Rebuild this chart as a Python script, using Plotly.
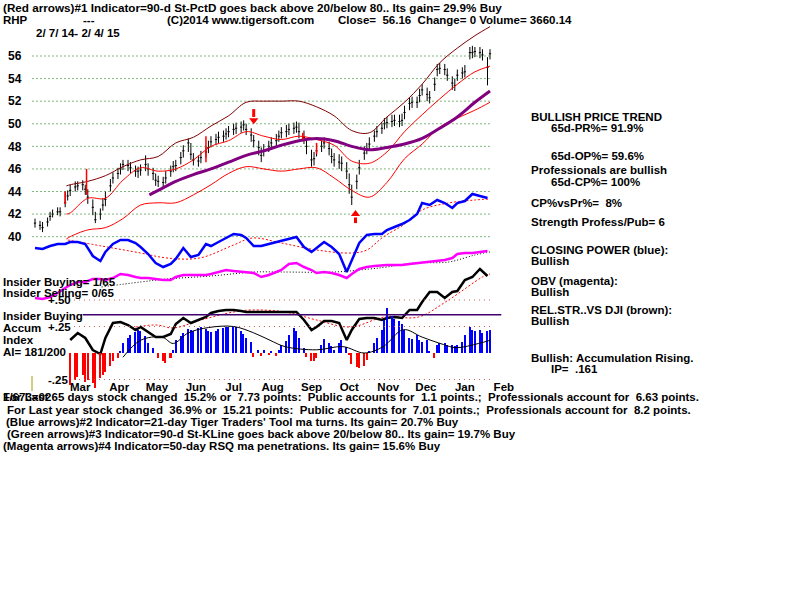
import pandas as pd
import plotly.graph_objects as go

# ---------------- data ----------------
START = "2014-02-07"
END = "2015-02-04"
PRICE_TICKS = [40, 42, 44, 46, 48, 50, 52, 54, 56]
MONTH_TICKS = ["2014-03-15", "2014-04-15", "2014-05-15", "2014-06-15", "2014-07-15",
               "2014-08-15", "2014-09-15", "2014-10-15", "2014-11-15", "2014-12-15",
               "2015-01-15", "2015-02-15"]
MONTH_LABELS = ["Mar", "Apr", "May", "Jun", "Jul", "Aug", "Sep", "Oct", "Nov", "Dec", "Jan", "Feb"]

# price bars, one every 2 trading days
CLOSE = [41.2, 41.0, 40.8, 41.3, 41.8, 42.0, 42.2, 42.2, 43.0, 43.6,
         44.1, 44.4, 44.5, 44.6, 44.2, 43.5, 42.6, 41.5, 42.0, 42.8,
         43.3, 44.5, 45.2, 45.6, 46.0, 46.4, 46.3, 46.1, 45.8, 45.8,
         45.9, 46.4, 46.0, 45.6, 45.0, 44.9, 44.8, 45.2, 45.8, 46.2,
         46.3, 47.0, 47.6, 48.3, 47.3, 46.8, 46.7, 47.0, 47.5, 47.9,
         48.4, 48.6, 48.8, 48.9, 49.1, 49.3, 49.5, 49.6, 49.7, 49.9,
         49.5, 49.0, 48.5, 47.9, 47.2, 47.6, 48.0, 48.3, 48.5, 48.9,
         49.2, 49.3, 49.5, 49.6, 49.7, 49.3, 48.8, 48.0, 46.8, 46.9,
         47.6, 48.0, 48.3, 47.8, 47.1, 46.8, 46.6, 46.5, 45.8, 44.6,
         43.5, 44.9, 46.1, 47.4, 47.8, 48.2, 48.9, 49.3, 49.6, 50.0,
         50.1, 50.2, 50.3, 50.2, 50.3, 51.0, 51.8, 51.9, 51.9, 52.5,
         53.0, 52.6, 52.3, 53.5, 54.8, 54.9, 54.8, 54.3, 53.6, 53.4,
         54.3, 54.5, 54.6, 56.3, 56.3, 56.4, 56.3, 56.1, 55.0, 56.2]
HIGH = [41.6, 41.4, 41.3, 41.7, 42.2, 42.4, 42.6, 42.6, 44.0, 44.1,
        44.6, 44.9, 44.9, 45.0, 44.6, 44.2, 43.3, 42.2, 42.5, 43.4,
        44.0, 45.1, 45.7, 46.1, 46.5, 46.8, 46.8, 46.6, 46.3, 46.2,
        46.4, 47.2, 46.5, 46.1, 45.6, 45.4, 45.3, 45.8, 46.3, 46.7,
        46.8, 47.5, 48.1, 48.7, 48.3, 47.4, 47.2, 47.6, 48.0, 48.5,
        48.9, 49.1, 49.3, 49.4, 49.6, 49.8, 50.0, 50.1, 50.2, 50.3,
        50.0, 49.6, 49.0, 48.5, 47.9, 48.2, 48.5, 48.8, 49.1, 49.4,
        49.7, 49.9, 50.0, 50.1, 50.2, 50.1, 49.4, 48.7, 47.7, 47.5,
        48.2, 48.5, 48.8, 48.4, 47.8, 47.4, 47.3, 47.1, 46.6, 45.6,
        44.6, 45.5, 46.8, 48.0, 48.3, 48.8, 49.4, 49.8, 50.1, 50.5,
        50.6, 50.8, 50.8, 50.8, 50.9, 51.6, 52.3, 52.4, 52.4, 53.1,
        53.5, 53.2, 52.9, 54.1, 55.3, 55.4, 55.3, 54.9, 54.2, 54.0,
        54.8, 55.0, 55.2, 56.8, 56.9, 56.8, 56.8, 56.6, 55.9, 56.6]
LOW = [40.8, 40.6, 40.4, 40.9, 41.4, 41.7, 41.9, 41.8, 42.6, 43.2,
       43.6, 44.0, 44.1, 44.1, 43.7, 42.9, 41.9, 41.2, 41.5, 42.3,
       42.7, 44.0, 44.7, 45.1, 45.5, 45.9, 45.8, 45.6, 45.3, 45.2,
       45.4, 45.8, 45.4, 45.0, 44.5, 44.4, 44.3, 44.7, 45.3, 45.7,
       45.8, 46.4, 47.0, 47.5, 46.8, 46.3, 46.2, 46.5, 47.0, 47.4,
       47.9, 48.1, 48.3, 48.4, 48.6, 48.8, 49.0, 49.1, 49.2, 49.4,
       49.0, 48.4, 47.9, 47.2, 46.6, 47.1, 47.5, 47.8, 48.0, 48.4,
       48.7, 48.8, 49.0, 49.1, 49.2, 48.7, 48.2, 47.3, 46.2, 46.3,
       47.1, 47.5, 47.8, 47.2, 46.5, 46.2, 46.0, 45.8, 45.1, 43.8,
       42.8, 44.2, 45.5, 46.8, 47.3, 47.6, 48.4, 48.8, 49.1, 49.5,
       49.6, 49.7, 49.8, 49.7, 49.8, 50.4, 51.2, 51.4, 51.4, 51.9,
       52.5, 52.0, 51.8, 52.9, 54.2, 54.4, 54.3, 53.8, 53.0, 52.9,
       53.8, 54.0, 54.1, 55.7, 55.8, 55.9, 55.8, 55.6, 53.4, 55.7]

# bands and moving average (trading-day index, value)
BAND_IDX = [17, 20, 30, 40, 50, 60, 70, 80, 90, 100, 110, 120, 130, 140, 150,
            160, 170, 180, 190, 200, 210, 220, 230, 240, 250, 258]
BAND_OUTER = [44.5, 44.6, 44.9, 45.4, 46.2, 46.8, 47.1, 48.3, 48.8, 49.8, 50.7, 51.9, 52.0,
              52.0, 52.0, 51.5, 50.7, 49.4, 49.2, 50.6, 51.9, 53.5, 55.4, 56.7, 57.8, 58.6]
BAND_UPPER = [42.0, 42.1, 43.4, 43.4, 45.0, 46.1, 45.8, 46.0, 46.8, 48.0, 48.5, 49.3, 48.9,
              48.6, 48.9, 48.6, 48.1, 46.7, 46.5, 47.5, 49.3, 50.8, 52.2, 53.5, 54.6, 55.1]
BAND_LOWER = [39.8, 40.0, 40.6, 40.8, 41.6, 42.8, 43.0, 43.0, 43.7, 44.6, 45.6, 46.2, 46.0,
              45.8, 46.0, 46.1, 45.2, 44.1, 43.5, 44.8, 46.9, 48.2, 49.7, 50.5, 51.2, 51.9]
MA_IDX = [65, 70, 80, 90, 100, 110, 120, 130, 140, 150, 160, 170, 180, 190, 200,
          210, 220, 230, 240, 250, 258]
MA_VALUES = [43.7, 44.1, 44.9, 45.5, 46.0, 46.6, 47.2, 47.6, 48.1, 48.5, 48.7, 48.5, 48.0,
             47.7, 47.9, 48.2, 48.7, 49.6, 50.6, 51.9, 52.9]

# signals
SIGNAL_IDX = [16, 29, 96, 151, 160]
SIGNAL_LOW = [42.9, 43.7, 46.6, 48.6, 47.3]
SIGNAL_HIGH = [44.0, 46.0, 48.9, 49.2, 48.3]
ARROW_DOWN_IDX, ARROW_DOWN_TOP, ARROW_DOWN_TIP = 124, 51.3, 50.3
ARROW_UP_IDX, ARROW_UP_BOTTOM, ARROW_UP_TIP = 181, 41.2, 42.0

# indicators, one every 4 trading days (arbitrary indicator units)
CP = [12, 11, 14, 16, 16, 18, 18, 16, 4, -1,
      8, 16, 20, 20, 17, 13, 6, -3, -7, -4,
      1, 12, 3, 5, 16, 14, 18, 22, 26, 25,
      22, 14, 14, 16, 18, 19, 21, 23, 13, 8,
      12, 18, 13, 6, -12, 0, 17, 25, 26, 26,
      30, 33, 36, 40, 46, 57, 55, 60, 57, 52,
      57, 59, 66, 64, 62]
CP_MA_IDX = [18, 37, 60, 75, 93, 112, 123, 140, 160, 180, 188, 197, 209, 220, 235, 250, 258]
CP_MA = [20, 14, 7, 2, 2, 15, 22, 17, 10, 7, 10, 23, 35, 50, 57, 60, 61]

OBV = [2, 1, 3, 7, 12, 15, 18, 18, 21, 21,
       20, 22, 26, 25, 23, 22, 22, 21, 20, 20,
       23, 25, 25, 25, 25, 26, 28, 30, 29, 28,
       28, 27, 23, 25, 28, 30, 36, 37, 33, 30,
       27, 28, 27, 25, 22, 26, 31, 33, 34, 35,
       35, 35, 35, 36, 37, 37, 38, 39, 40, 42,
       46, 47, 47, 48, 49]
OBV_MA_IDX = [37, 60, 75, 100, 125, 140, 170, 190, 200, 215, 235, 250, 258]
OBV_MA = [13, 18, 21, 24, 28, 28, 28, 31, 33, 37, 38, 45, 48]

RS = [None, None, None, None, None,
      0, 7, 2, -10, -14, 2, 17, 18, 15, 10,
      13, 8, 3, 3, 6, 16, 22, 17, 20, 23,
      27, 29, 30, 30, 29, 28, 28, 28, 28, 28,
      28, 28, 28, 20, 10, 13, 19, 19, 17, 0,
      10, 21, 22, 22, 20, 22, 23, 22, 30, 30,
      38, 48, 48, 42, 48, 49, 60, 63, 71, 64]
RS_MA_IDX = [56, 69, 78, 94, 112, 122, 141, 160, 179, 198, 217, 235, 254, 258]
RS_MA = [13, 15, 12, 20, 28, 30, 28, 20, 13, 23, 23, 40, 63, 66]

# accumulation index, one every 2 trading days
AI = [0, 0, 0, 0, 0, 0, 0, 0, 0, 0,
      -0.30, -0.25, -0.23, -0.21, -0.27, -0.25, -0.28, -0.33, -0.24, -0.21,
      -0.18, -0.12, -0.08, -0.05, 0.01, 0.09, 0.14, 0.17, 0.20, 0.22,
      0.21, 0.16, 0.09, 0.05, 0.00, -0.05, -0.08, -0.09, -0.05, 0.03,
      0.12, 0.16, 0.19, 0.23, 0.22, 0.21, 0.24, 0.25, 0.23, 0.21,
      0.20, 0.21, 0.23, 0.24, 0.25, 0.25, 0.25, 0.25, 0.21, 0.18,
      0.14, 0.10, -0.04, 0.03, -0.03, 0.03, -0.01, 0.02, -0.03, 0.03,
      0.08, 0.11, 0.17, 0.24, 0.21, 0.14, 0.05, -0.04, -0.08, -0.08,
      -0.05, 0.08, 0.13, 0.09, 0.07, 0.03, 0.09, 0.12, 0.06, -0.02,
      -0.10, -0.13, -0.14, -0.12, -0.07, 0.01, 0.09, 0.14, 0.22, 0.31,
      0.42, 0.35, 0.32, 0.30, 0.27, 0.22, 0.14, 0.13, 0.17, 0.12,
      0.10, 0.12, 0.01, -0.05, 0.08, 0.09, 0.09, 0.08, 0.08, 0.07,
      0.08, 0.10, 0.17, 0.25, 0.22, 0.21, 0.22, 0.19, 0.21, 0.22]
AI_MA_IDX = [50, 60, 71, 78, 86, 98, 112, 124, 133, 141, 160, 175, 186, 197, 209, 220, 231, 239, 251, 258]
AI_MA = [-0.04, 0.12, 0.15, 0.09, 0.19, 0.24, 0.25, 0.19, 0.12, 0.06, 0.03, 0.06, 0.0, 0.06,
         0.22, 0.15, 0.08, 0.05, 0.09, 0.12]
AI_LEVELS = [0.50, 0.25, -0.25]
AI_LEVEL_LABELS = ["+.50", "+.25", "-.25"]
INSIDER_LEVEL = 0.36

HEADER = "(Red arrows)#1 Indicator=90-d St-PctD goes back above 20/below 80.. Its gain= 29.9% Buy"
RIGHT_TEXT = [
    ("BULLISH PRICE TREND", 530, 117), ("65d-PR%= 91.9%", 550, 128),
    ("65d-OP%= 59.6%", 550, 156), ("Professionals are bullish", 530, 170),
    ("65d-CP%= 100%", 550, 182), ("CP%vsPr%=  8%", 530, 203),
    ("Strength Profess/Pub= 6", 530, 222), ("CLOSING POWER (blue):", 530, 250),
    ("Bullish", 530, 261), ("OBV (magenta):", 530, 281), ("Bullish", 530, 292),
    ("REL.STR..VS DJI (brown):", 530, 310), ("Bullish", 530, 321),
    ("Bullish: Accumulation Rising.", 530, 358), ("IP=  .161", 550, 369),
]
LEFT_TEXT = [
    ("Insider Buying= 1/65", 2, 282), ("Insider Selling= 0/65", 2, 293),
    ("Insider Buying", 2, 316), ("Accum", 2, 328), ("Index", 2, 340), ("AI= 181/200", 2, 352),
]
FOOTER = [
    ("For Last 65 days stock changed  15.2% or  7.73 points:  Public accounts for  1.1 points.;  Professionals account for  6.63 points.", 2, 397),
    ("1/673=02", 2, 397),
    ("For Last year stock changed  36.9% or  15.21 points:  Public accounts for  7.01 points.;  Professionals account for  8.2 points.", 6, 410),
    ("(Blue arrows)#2 Indicator=21-day Tiger Traders' Tool ma turns. Its gain= 20.7% Buy", 5, 422),
    ("(Green arrows)#3 Indicator=90-d St-KLine goes back above 20/below 80.. Its gain= 19.7% Buy", 6, 434),
    ("(Magenta arrows)#4 Indicator=50-day RSQ ma penetrations. Its gain= 15.6% Buy", 2, 446),
]

# ---------------- figure ----------------
bdays = pd.bdate_range(START, periods=280)
bar_dates = bdays[0:2 * len(CLOSE):2]
ind_dates = bdays[0:4 * len(CP):4]


def dates(idx):
    return [bdays[i] for i in idx]


FONT = "Liberation Sans"


def sp(s):
    return s.replace("  ", " \u00a0")


fig = go.Figure()

# dotted green price grid
gx, gy = [], []
for t in PRICE_TICKS:
    gx += [bdays[0] - pd.Timedelta(days=2), bdays[258], None]
    gy += [t, t, None]
fig.add_trace(go.Scatter(x=gx, y=gy, mode="lines",
                         line=dict(color="#007000", width=1, dash="1px,3px"),
                         hoverinfo="skip", showlegend=False))

fig.add_trace(go.Scatter(x=dates(BAND_IDX), y=BAND_OUTER, mode="lines",
                         line=dict(color="#800000", width=1, shape="spline"), showlegend=False))
fig.add_trace(go.Scatter(x=dates(BAND_IDX), y=BAND_UPPER, mode="lines",
                         line=dict(color="#FF0000", width=1, shape="spline"), showlegend=False))
fig.add_trace(go.Scatter(x=dates(BAND_IDX), y=BAND_LOWER, mode="lines",
                         line=dict(color="#FF0000", width=1, shape="spline"), showlegend=False))
fig.add_trace(go.Scatter(x=dates(MA_IDX), y=MA_VALUES, mode="lines",
                         line=dict(color="#800080", width=3, shape="spline"), showlegend=False))

fig.add_trace(go.Ohlc(x=bar_dates, open=CLOSE, high=HIGH, low=LOW, close=CLOSE,
                      increasing=dict(line=dict(color="black", width=1)),
                      decreasing=dict(line=dict(color="black", width=1)),
                      tickwidth=0.45, showlegend=False, hoverinfo="skip"))

# red signal lines
sx, sy = [], []
for i, lo, hi in zip(SIGNAL_IDX, SIGNAL_LOW, SIGNAL_HIGH):
    sx += [bdays[i], bdays[i], None]
    sy += [lo, hi, None]
fig.add_trace(go.Scatter(x=sx, y=sy, mode="lines", line=dict(color="#FF0000", width=1.5),
                         showlegend=False, hoverinfo="skip"))

# arrows
fig.add_trace(go.Scatter(x=[bdays[ARROW_DOWN_IDX]] * 2, y=[ARROW_DOWN_TOP, ARROW_DOWN_TIP + 0.3],
                         mode="lines", line=dict(color="#FF0000", width=3), showlegend=False))
fig.add_trace(go.Scatter(x=[bdays[ARROW_DOWN_IDX]], y=[ARROW_DOWN_TIP], mode="markers",
                         marker=dict(symbol="triangle-down", size=8, color="#FF0000"), showlegend=False))
fig.add_trace(go.Scatter(x=[bdays[ARROW_UP_IDX]] * 2, y=[ARROW_UP_BOTTOM, ARROW_UP_TIP - 0.3],
                         mode="lines", line=dict(color="#FF0000", width=3), showlegend=False))
fig.add_trace(go.Scatter(x=[bdays[ARROW_UP_IDX]], y=[ARROW_UP_TIP], mode="markers",
                         marker=dict(symbol="triangle-up", size=8, color="#FF0000"), showlegend=False))

# closing power
fig.add_trace(go.Scatter(x=dates(CP_MA_IDX), y=CP_MA, yaxis="y2", mode="lines",
                         line=dict(color="#FF0000", width=1, dash="2px,2px", shape="spline"), showlegend=False))
fig.add_trace(go.Scatter(x=ind_dates, y=CP, yaxis="y2", mode="lines",
                         line=dict(color="#0000FF", width=2.5), showlegend=False))

# OBV
fig.add_trace(go.Scatter(x=dates(OBV_MA_IDX), y=OBV_MA, yaxis="y3", mode="lines",
                         line=dict(color="#000000", width=1, dash="1px,2px", shape="spline"), showlegend=False))
fig.add_trace(go.Scatter(x=ind_dates, y=OBV, yaxis="y3", mode="lines",
                         line=dict(color="#FF00FF", width=2.5), showlegend=False))

# accumulation index
ax, ay = [], []
for lv in AI_LEVELS:
    ax += [bdays[21], bdays[258], None]
    ay += [lv, lv, None]
fig.add_trace(go.Scatter(x=ax, y=ay, yaxis="y5", mode="lines",
                         line=dict(color="#C06060", width=1, dash="1px,4px"), showlegend=False))
fig.add_trace(go.Bar(x=bar_dates, y=AI, yaxis="y5",
                     marker=dict(color=["#0000FF" if v >= 0 else "#FF0000" for v in AI],
                                 line=dict(width=0)),
                     width=1.2 * 86400000, showlegend=False))
fig.add_trace(go.Scatter(x=dates(AI_MA_IDX), y=AI_MA, yaxis="y5", mode="lines",
                         line=dict(color="#000000", width=1, shape="spline"), showlegend=False))
fig.add_trace(go.Scatter(x=[bdays[26], bdays[265]], y=[INSIDER_LEVEL] * 2, yaxis="y5", mode="lines",
                         line=dict(color="#400070", width=1.5), showlegend=False))

# relative strength
fig.add_trace(go.Scatter(x=dates(RS_MA_IDX), y=RS_MA, yaxis="y4", mode="lines",
                         line=dict(color="#FF0000", width=1, dash="2px,2px", shape="spline"), showlegend=False))
fig.add_trace(go.Scatter(x=ind_dates, y=RS, yaxis="y4", mode="lines",
                         line=dict(color="#000000", width=2.5), showlegend=False))

# text
ann = []


def txt(s, px, py, size=11.5):
    ann.append(dict(text=sp(s), x=px / 800, y=1 - py / 600, xref="paper", yref="paper",
                    xanchor="left", yanchor="middle", showarrow=False, borderpad=0,
                    font=dict(family=FONT, size=size, color="black", weight="bold")))


txt(HEADER, 2, 7, 11.7)
txt("RHP", 2, 20)
txt("---", 82, 20)
txt("(C)2014 www.tigersoft.com", 166, 20)
txt("Close=  56.16  Change= 0 Volume= 3660.14", 337, 20)
txt("2/ 7/ 14- 2/ 4/ 15", 35, 33)
for s, x, y in RIGHT_TEXT + LEFT_TEXT + FOOTER:
    txt(s, x, y)
for lv, lab in zip(AI_LEVELS, AI_LEVEL_LABELS):
    ann.append(dict(text=lab, x=47 / 800, xref="paper", y=lv, yref="y5",
                    xanchor="left", yanchor="middle", showarrow=False, borderpad=0,
                    font=dict(family=FONT, size=11.5, color="black", weight="bold")))

PX_PER_DAY = 455 / 362
x0 = pd.Timestamp(START) - pd.Timedelta(days=35 / PX_PER_DAY)
x1 = pd.Timestamp(END) + pd.Timedelta(days=310 / PX_PER_DAY)

hidden = dict(overlaying="y", visible=False, fixedrange=True)
fig.update_layout(
    width=800, height=600, margin=dict(l=0, r=0, t=0, b=0),
    paper_bgcolor="white", plot_bgcolor="white", showlegend=False, bargap=0,
    annotations=ann,
    shapes=[dict(type="line", xref="paper", yref="paper", x0=32 / 800, x1=32 / 800,
                 y0=1 - 376 / 600, y1=1 - 391 / 600, line=dict(color="#A0A000", width=1))],
    xaxis=dict(type="date", range=[x0, x1], anchor="free", position=1 - 378 / 600,
               showgrid=False, zeroline=False, showline=False, ticks="",
               tickvals=MONTH_TICKS, ticktext=MONTH_LABELS,
               tickfont=dict(family=FONT, size=11.5, color="black", weight="bold"),
               rangeslider=dict(visible=False), fixedrange=True),
    yaxis=dict(range=[7.82, 60.96], anchor="free", position=0.005, side="left",
               tickvals=PRICE_TICKS, ticklabelposition="inside", ticks="",
               showgrid=False, zeroline=False, showline=False, fixedrange=True,
               tickfont=dict(family=FONT, size=12, color="black", weight="bold")),
    yaxis2=dict(range=[-340, 260], **hidden),
    yaxis3=dict(range=[-300, 300], **hidden),
    yaxis4=dict(range=[-260, 340], **hidden),
    yaxis5=dict(range=[-2.330, 3.330], **hidden),
)

fig.write_html("out.html")
